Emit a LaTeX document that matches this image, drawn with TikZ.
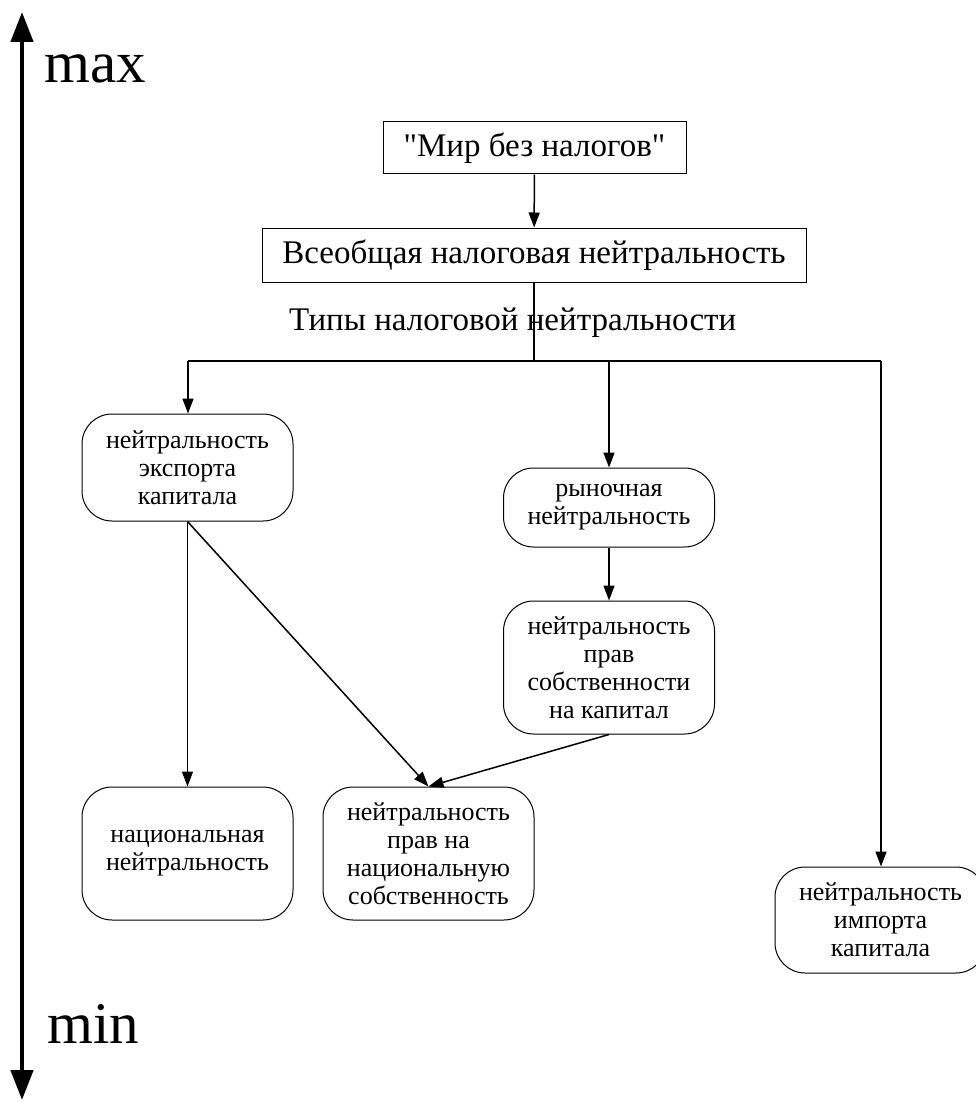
\documentclass[tikz,border=0pt]{standalone}
\usepackage{fontspec}
\setmainfont{Liberation Serif}
\newfontfamily\qfont{Liberation Serif}
\usetikzlibrary{arrows.meta,calc}
\tikzset{
  sqbox/.style={draw=black,line width=1pt,rectangle,inner sep=0pt,align=center,font=\fontsize{33}{38}\selectfont},
  rbox/.style={draw=black,line width=1pt,rectangle,rounded corners=30pt,inner sep=0pt,align=center,minimum width=211pt,font=\fontsize{26}{28}\selectfont},
  conn/.style={line width=1.5pt},
  arr/.style={line width=1.5pt,-{Triangle[length=15pt,width=11pt]}},
  axis/.style={line width=4.5pt,{Triangle[length=30pt,width=22pt]}-{Triangle[length=30pt,width=22pt]}},
  big/.style={font=\fontsize{59}{62}\selectfont,inner sep=0pt,anchor=base west},
  lbl/.style={font=\fontsize{33}{38}\selectfont,inner sep=0pt,anchor=base west}
}
\begin{document}
\begin{tikzpicture}[x=1pt,y=-1pt]
\useasboundingbox (0,0) rectangle (976,1102);
\clip (0,0) rectangle (976,1102);
% axis
\coordinate (axtop) at (22,12);
\coordinate (axbot) at (22,1100);
\draw[axis] (axbot) -- (axtop);
\node[big] (max) at (44,83) {max};
\node[big] (min) at (47,1043) {min};
% boxes
\node[sqbox,minimum width=303pt,minimum height=52pt,font=\qfont\fontsize{33}{38}\selectfont] (world) at (534.5,148) {"Мир без налогов"};
\node[sqbox,minimum width=544pt,minimum height=54pt] (univ) at (534,255) {Всеобщая налоговая нейтральность};
\node[lbl] (types) at (289,330) {Типы налоговой нейтральности};
\node[rbox,minimum height=107pt] (exp) at (187.5,467.5) {нейтральность\\экспорта\\капитала};
\node[rbox,minimum height=79pt] (mkt) at (609,507.5) {рыночная\\нейтральность};
\node[rbox,minimum height=133pt] (prop) at (609,667.5) {нейтральность\\прав\\собственности\\на капитал};
\node[rbox,minimum height=133pt] (nat) at (187.5,853.5) {национальная\\нейтральность};
\node[rbox,minimum height=133pt] (natprop) at (428.5,853.5) {нейтральность\\прав на\\национальную\\собственность};
\node[rbox,minimum height=106pt] (imp) at (880.5,920) {нейтральность\\импорта\\капитала};
% bus
\coordinate (busC) at (534,361);
\coordinate (busL) at (188,361);
\coordinate (busM) at (609,361);
\coordinate (busR) at (881,361);
% connectors
\draw[arr] (world) -- (univ);
\draw[conn] (univ) -- (busC);
\draw[conn] (busL) -- (busR);
\draw[arr] (busL) -- (busL |- exp.north);
\draw[arr] (busM) -- (mkt);
\draw[arr] (busR) -- (busR |- imp.north);
\draw[arr] (mkt) -- (prop);
\draw[arr] (exp.south) -- (nat.north);
\draw[arr] (exp.south) -- (natprop.north);
\draw[arr] (prop.south) -- (natprop.north);
\end{tikzpicture}
\end{document}
